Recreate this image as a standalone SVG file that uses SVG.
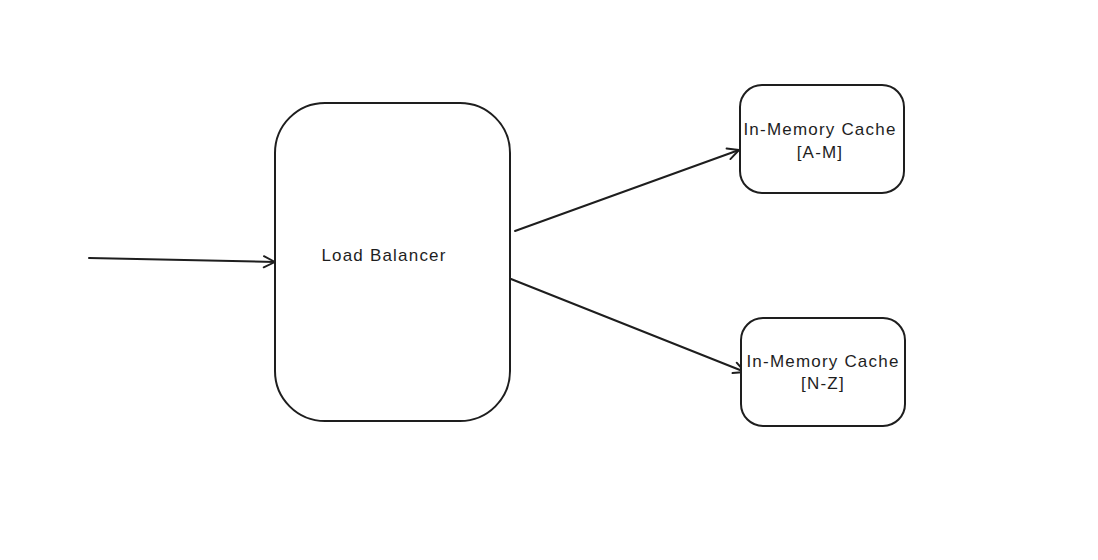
<svg xmlns="http://www.w3.org/2000/svg" width="1098" height="560" viewBox="0 0 1098 560">
<style>
.node{fill:#ffffff;stroke:#1e1e1e;stroke-width:2}
.edge{fill:none;stroke:#1e1e1e;stroke-width:2;stroke-linecap:round}
.lbl{font-family:"Liberation Sans",Arial,sans-serif;font-size:17px;letter-spacing:1.2px;fill:#1e1e1e;text-anchor:middle;dominant-baseline:middle}
</style>
<defs>
<marker id="arr" viewBox="0 0 20 20" refX="18" refY="10" markerWidth="16" markerHeight="16" markerUnits="userSpaceOnUse" orient="auto">
<path d="M4,3 L18,10 L4,17" fill="none" stroke="#1e1e1e" stroke-width="2.4" stroke-linecap="round" stroke-linejoin="round"/>
</marker>
</defs>
<rect width="1098" height="560" fill="#ffffff"/>
<g id="connectors">
<path class="edge" d="M89,258 L275,262" marker-end="url(#arr)"/>
<path class="edge" d="M515,231 L739,150" marker-end="url(#arr)"/>
<path class="edge" d="M511,279 L745,372" marker-end="url(#arr)"/>
</g>
<g id="load-balancer">
<rect class="node" x="275" y="103" width="235" height="318" rx="50" ry="50"/>
<text class="lbl" x="384" y="257">Load Balancer</text>
</g>
<g id="cache-a-m">
<rect class="node" x="740" y="85" width="164" height="108" rx="22" ry="22"/>
<text class="lbl" x="820" y="131">In-Memory Cache</text>
<text class="lbl" x="820" y="154">[A-M]</text>
</g>
<g id="cache-n-z">
<rect class="node" x="741" y="318" width="164" height="108" rx="22" ry="22"/>
<text class="lbl" x="823" y="363">In-Memory Cache</text>
<text class="lbl" x="823" y="385">[N-Z]</text>
</g>
</svg>
